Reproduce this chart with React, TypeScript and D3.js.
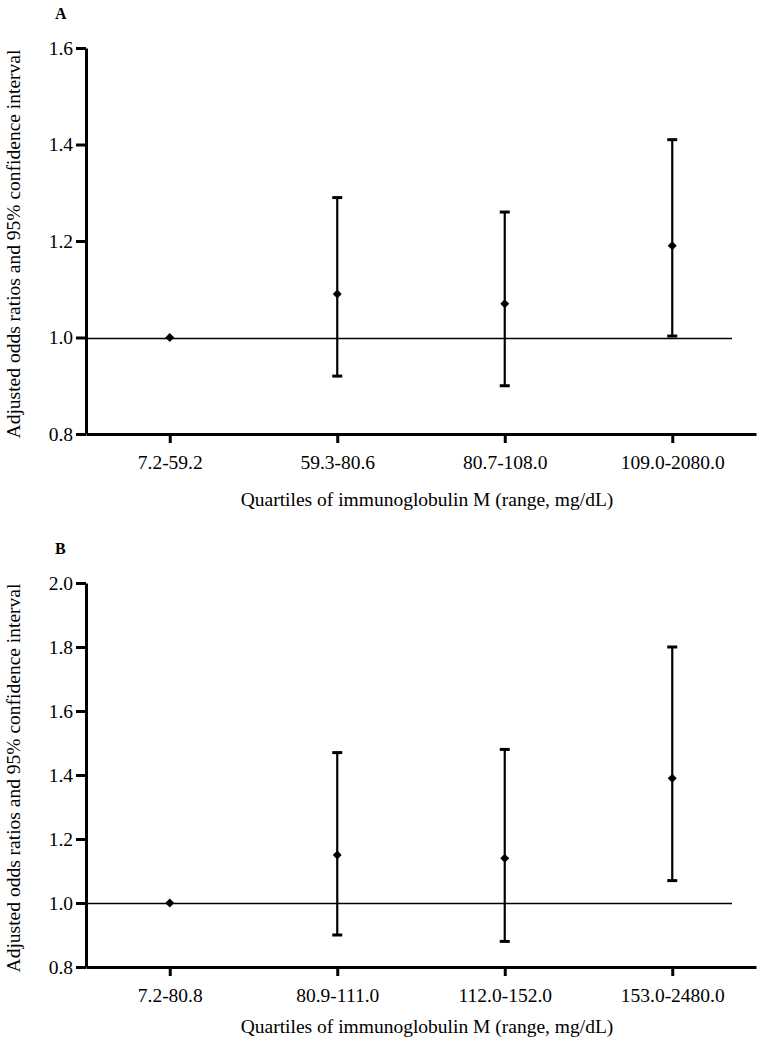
import * as d3 from 'd3';
import React, { useEffect, useRef } from 'react';

// Panel A: quartiles of IgM
const catsA = ['7.2-59.2', '59.3-80.6', '80.7-108.0', '109.0-2080.0'];
const orA = [1.0, 1.09, 1.07, 1.19];
const lowA = [1.0, 0.92, 0.9, 1.003];
const highA = [1.0, 1.29, 1.26, 1.41];
const ticksA = [0.8, 1.0, 1.2, 1.4, 1.6];

// Panel B
const catsB = ['7.2-80.8', '80.9-111.0', '112.0-152.0', '153.0-2480.0'];
const orB = [1.0, 1.15, 1.14, 1.39];
const lowB = [1.0, 0.9, 0.88, 1.07];
const highB = [1.0, 1.47, 1.48, 1.8];
const ticksB = [0.8, 1.0, 1.2, 1.4, 1.6, 1.8, 2.0];

const xTitle = 'Quartiles of immunoglobulin M (range, mg/dL)';
const yTitle = 'Adjusted odds ratios and 95% confidence interval';

const FONT = '"Liberation Serif", "Times New Roman", serif';
const FS = 19.5;

interface Panel {
    label: string;
    cats: string[];
    or: number[];
    low: number[];
    high: number[];
    ticks: number[];
    top: number;
    bottom: number;
    titleGap: number;
}

const panels: Panel[] = [
    { label: 'A', cats: catsA, or: orA, low: lowA, high: highA, ticks: ticksA, top: 48, bottom: 434, titleGap: 72 },
    { label: 'B', cats: catsB, or: orB, low: lowB, high: highB, ticks: ticksB, top: 583, bottom: 967, titleGap: 66 },
];

const App: React.FC = () => {
    const svgRef = useRef<SVGSVGElement | null>(null);

    useEffect(() => {
        const svg = d3.select(svgRef.current);
        svg.selectAll('*').remove();

        const left = 86;
        const right = 756;

        panels.forEach(p => {
            const g = svg.append('g');

            const x = d3.scalePoint<string>().domain(p.cats).range([left, right]).padding(0.5);
            const y = d3
                .scaleLinear()
                .domain([p.ticks[0], p.ticks[p.ticks.length - 1]])
                .range([p.bottom, p.top]);

            // reference line at OR = 1
            g.append('line')
                .attr('x1', left)
                .attr('x2', 732)
                .attr('y1', Math.round(y(1)) + 0.5)
                .attr('y2', Math.round(y(1)) + 0.5)
                .attr('stroke', '#000')
                .attr('stroke-width', 1.3);

            // y axis
            const ya = g
                .append('g')
                .attr('transform', `translate(${left},0)`)
                .call(
                    d3
                        .axisLeft(y)
                        .tickValues(p.ticks)
                        .tickFormat(d3.format('.1f'))
                        .tickSize(10)
                        .tickSizeOuter(0)
                        .tickPadding(3)
                );
            ya.select('.domain').attr('stroke-width', 3);
            ya.selectAll('.tick line').attr('stroke-width', 3);
            ya.selectAll('text').attr('font-family', FONT).attr('font-size', FS).attr('fill', '#000');

            // x axis
            const xa = g
                .append('g')
                .attr('transform', `translate(0,${p.bottom})`)
                .call(d3.axisBottom(x).tickSize(9).tickSizeOuter(0).tickPadding(12));
            xa.select('.domain').attr('stroke-width', 3);
            xa.selectAll('.tick line').attr('stroke-width', 3);
            xa.selectAll('text').attr('font-family', FONT).attr('font-size', FS).attr('fill', '#000');

            const idx = d3.range(p.cats.length).filter(i => p.high[i] !== p.low[i]);

            // whiskers
            g.selectAll('.whisker')
                .data(idx)
                .enter()
                .append('line')
                .attr('x1', i => x(p.cats[i])!)
                .attr('x2', i => x(p.cats[i])!)
                .attr('y1', i => y(p.low[i]))
                .attr('y2', i => y(p.high[i]))
                .attr('stroke', '#000')
                .attr('stroke-width', 2.2);

            // caps
            const capEnds = idx.flatMap(i => [p.low[i], p.high[i]].map(v => ({ i, v })));
            g.selectAll('.cap')
                .data(capEnds)
                .enter()
                .append('line')
                .attr('x1', d => x(p.cats[d.i])! - 5)
                .attr('x2', d => x(p.cats[d.i])! + 5)
                .attr('y1', d => y(d.v))
                .attr('y2', d => y(d.v))
                .attr('stroke', '#000')
                .attr('stroke-width', 3);

            // point estimates (diamonds)
            const diamond = d3.symbol(d3.symbolSquare, 40)();
            g.selectAll('.pt')
                .data(p.or)
                .enter()
                .append('path')
                .attr('d', diamond)
                .attr('transform', (d, i) => `translate(${x(p.cats[i])},${y(d)}) rotate(45)`)
                .attr('fill', '#000');

            // panel letter
            g.append('text')
                .attr('x', 55)
                .attr('y', p.top - 29)
                .attr('font-family', FONT)
                .attr('font-weight', 'bold')
                .attr('font-size', 16)
                .text(p.label);

            // axis titles
            g.append('text')
                .attr('x', (left + right) / 2 + 6)
                .attr('y', p.bottom + p.titleGap)
                .attr('text-anchor', 'middle')
                .attr('font-family', FONT)
                .attr('font-size', FS)
                .text(xTitle);

            g.append('text')
                .attr('transform', `translate(20,${(p.top + p.bottom) / 2 + 3}) rotate(-90)`)
                .attr('text-anchor', 'middle')
                .attr('font-family', FONT)
                .attr('font-size', FS)
                .text(yTitle);
        });
    }, []);

    return <svg ref={svgRef} width={762} height={1043} style={{ position: 'absolute', left: 0, top: 0 }}></svg>;
};

export default App;
